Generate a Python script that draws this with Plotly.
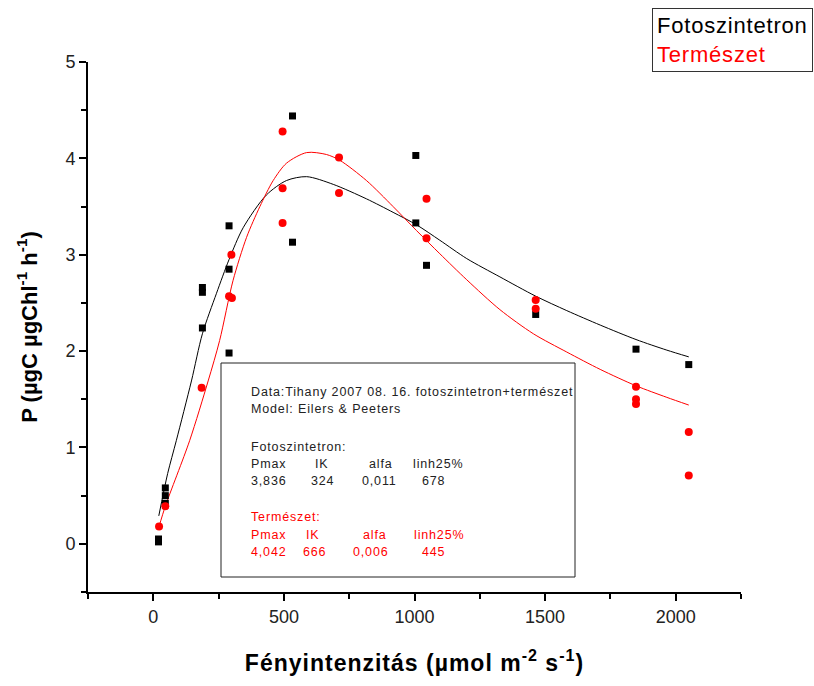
import plotly.graph_objects as go

# ---- data ----
foto_x = [20, 20, 46, 46, 46, 188, 188, 188, 290, 290, 290, 533, 533, 1005, 1005, 1046, 1464, 1848, 2050]
foto_y = [0.02, 0.05, 0.58, 0.50, 0.42, 2.66, 2.61, 2.24, 3.30, 2.85, 1.98, 4.44, 3.13, 4.03, 3.33, 2.89, 2.38, 2.02, 1.86]

term_x = [22, 46, 185, 290, 301, 299, 495, 495, 495, 711, 711, 1046, 1046, 1464, 1464, 1848, 1848, 1848, 2050, 2050]
term_y = [0.18, 0.39, 1.62, 2.57, 2.55, 3.00, 4.28, 3.69, 3.33, 4.01, 3.64, 3.58, 3.17, 2.53, 2.44, 1.63, 1.50, 1.45, 1.16, 0.71]

foto_fit_x = [21, 55, 88, 146, 188, 242, 290, 344, 433, 510, 587, 689, 816, 918, 1008, 1097, 1200, 1327, 1464, 1583, 1711, 1848, 1966, 2050]
foto_fit_y = [0.29, 0.73, 1.07, 1.69, 2.18, 2.60, 2.95, 3.28, 3.62, 3.77, 3.81, 3.73, 3.58, 3.44, 3.31, 3.15, 2.96, 2.77, 2.57, 2.42, 2.27, 2.12, 2.01, 1.94]

term_fit_x = [22, 46, 139, 210, 254, 305, 357, 408, 459, 510, 587, 663, 714, 816, 918, 1008, 1097, 1200, 1327, 1455, 1583, 1711, 1848, 1966, 2050]
term_fit_y = [0.18, 0.39, 1.07, 1.69, 2.11, 2.73, 3.18, 3.50, 3.77, 3.95, 4.06, 4.04, 3.98, 3.77, 3.50, 3.25, 3.01, 2.74, 2.43, 2.18, 1.99, 1.81, 1.64, 1.52, 1.44]

x_ticks = [0, 500, 1000, 1500, 2000]
y_ticks = [0, 1, 2, 3, 4, 5]

info_header = ["Data:Tihany 2007 08. 16. fotoszintetron+természet", "Model: Eilers & Peeters"]
param_names = ["Pmax", "IK", "alfa", "linh25%"]
foto_params = ["3,836", "324", "0,011", "678"]
term_params = ["4,042", "666", "0,006", "445"]

RED = "#ff0000"

# plot area in pixels
L, R, T, B = 88, 741, 62, 592
W, H = R - L, B - T


def px(x):
    return (x - L) / W


def py(y):
    return (B - y) / H


fig = go.Figure()
fig.add_trace(go.Scatter(x=foto_fit_x, y=foto_fit_y, mode="lines",
                         line=dict(color="black", width=1, shape="spline", smoothing=0.8),
                         showlegend=False, hoverinfo="skip"))
fig.add_trace(go.Scatter(x=term_fit_x, y=term_fit_y, mode="lines",
                         line=dict(color=RED, width=1, shape="spline", smoothing=0.8),
                         showlegend=False, hoverinfo="skip"))
fig.add_trace(go.Scatter(x=foto_x, y=foto_y, mode="markers", name="Fotoszintetron",
                         marker=dict(symbol="square", size=7, color="black"), showlegend=False))
fig.add_trace(go.Scatter(x=term_x, y=term_y, mode="markers", name="Természet",
                         marker=dict(symbol="circle", size=8, color=RED), showlegend=False))

annotations = []
# legend box
annotations.append(dict(xref="paper", yref="paper", x=px(652), y=py(8), xanchor="left", yanchor="top",
                        text="<span style='letter-spacing:0.8px'>Fotoszintetron</span><br>"
                             "<span style='color:#ff0000;letter-spacing:0.8px'>Természet</span>",
                        showarrow=False, align="left", bordercolor="#333", borderwidth=1, borderpad=4,
                        font=dict(family="Liberation Sans, Arial", size=22, color="black")))

FS = 12.5
FONT = "Liberation Sans, Arial"


def txt(x, y, s, color="#222"):
    annotations.append(dict(xref="paper", yref="paper", x=px(x), y=py(y), xanchor="left", yanchor="middle",
                            text="<span style='letter-spacing:0.85px'>" + s + "</span>", showarrow=False,
                            font=dict(family=FONT, size=FS, color=color)))


txt(249, 392, info_header[0])
txt(249, 409, info_header[1])
txt(249, 447, "Fotoszintetron:")
for xx, s in zip([249, 313, 367, 411], param_names):
    txt(xx, 464, s)
for xx, s in zip([249, 309, 360, 420], foto_params):
    txt(xx, 481, s)
txt(249, 517, "Természet:", RED)
for xx, s in zip([249, 304, 361, 412], param_names):
    txt(xx, 535, s, RED)
for xx, s in zip([249, 301, 351, 420], term_params):
    txt(xx, 552, s, RED)

fig.add_shape(type="rect", xref="paper", yref="paper", x0=px(221), x1=px(575), y0=py(577), y1=py(363),
              line=dict(color="#222", width=1), fillcolor="rgba(0,0,0,0)")

fig.update_layout(
    width=814, height=686,
    margin=dict(l=L, r=814 - R, t=T, b=686 - B),
    paper_bgcolor="white", plot_bgcolor="white",
    annotations=annotations,
    xaxis=dict(range=[-250, 2250], tickvals=x_ticks, ticktext=[str(v) for v in x_ticks],
               ticks="outside", ticklen=7, tickwidth=2, tickcolor="black",
               minor=dict(tickvals=[-250, 250, 750, 1250, 1750, 2250], ticks="outside", ticklen=5, tickwidth=2, tickcolor="black"),
               showline=True, linecolor="black", linewidth=2, showgrid=False, zeroline=False,
               tickfont=dict(family="Liberation Sans Narrow, Arial Narrow, Liberation Sans", size=18, color="#222"),
               title=dict(text="<b><span style='letter-spacing:1px'>Fényintenzitás (µmol m<sup>-2</sup> s<sup>-1</sup>)</span></b>",
                          font=dict(family="Liberation Sans, Arial", size=23, color="black"),
                          standoff=29)),
    yaxis=dict(range=[-0.5, 5], tickvals=y_ticks, ticktext=[str(v) for v in y_ticks],
               ticks="outside", ticklen=7, tickwidth=2, tickcolor="black",
               minor=dict(tickvals=[-0.5, 0.5, 1.5, 2.5, 3.5, 4.5], ticks="outside", ticklen=5, tickwidth=2, tickcolor="black"),
               showline=True, linecolor="black", linewidth=2, showgrid=False, zeroline=False,
               tickfont=dict(family="Liberation Sans, Arial", size=18, color="#222"),
               title=dict(text="<b>P (µgC µgChl<sup>-1</sup> h<sup>-1</sup>)</b>",
                          font=dict(family="Liberation Sans, Arial", size=22, color="black"),
                          standoff=22)),
)

fig.write_html("out.html")
